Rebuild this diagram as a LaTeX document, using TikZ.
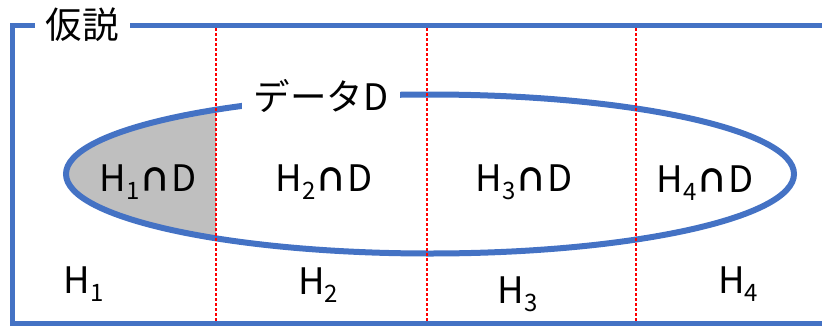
\documentclass[tikz,border=0pt]{standalone}
\usepackage{graphicx}
\usepackage{fontspec}
\setmainfont{Noto Sans CJK JP}
\definecolor{frameblue}{HTML}{4472C4}
\definecolor{shadegray}{HTML}{BFBFBF}
\newcommand\hsub[1]{\raisebox{-0.22em}{\fontsize{24}{24}\selectfont #1}}
\newcommand\capsym{{\bfseries\scalebox{0.86}{∩}}}
\tikzset{
  frameline/.style={draw=frameblue, line width=5pt, line join=miter},
  dataline/.style={draw=frameblue, line width=6pt},
  divider/.style={draw=red, line width=1.1pt, dash pattern=on 3pt off 2pt},
  lbl/.style={font=\fontsize{36.5}{40}\selectfont, inner sep=0pt},
  gaplbl/.style={lbl, fill=white, inner xsep=12pt, inner ysep=2pt},
}
\begin{document}
\begin{tikzpicture}[x=1pt,y=-1pt]
\useasboundingbox (0,0) rectangle (822,327);
% grey part of the ellipse
\begin{scope}
  \clip (430,174) ellipse [x radius=364, y radius=79.5];
  \fill[shadegray] (0,0) rectangle (216,327);
\end{scope}
% data ellipse
\draw[dataline] (430,174) ellipse [x radius=364, y radius=79.5];
\node[gaplbl, anchor=base] (data) at (321,110) {データD};
% dividers
\draw[divider] (216,28) -- (216,321);
\draw[divider] (427,28) -- (427,321);
\draw[divider] (636,28) -- (636,321);
% frame
\draw[frameline] (822,25) -- (12,25) -- (12,323) -- (822,323);
\node[gaplbl, inner xsep=11pt] (hyp) at (82,25) {仮説};
% labels
\node[lbl, anchor=base] (h1d) at (148,191) {H\hsub{1}\capsym D};
\node[lbl, anchor=base] (h2d) at (324,191) {H\hsub{2}\capsym D};
\node[lbl, anchor=base] (h3d) at (524,191) {H\hsub{3}\capsym D};
\node[lbl, anchor=base] (h4d) at (705,192) {H\hsub{4}\capsym D};
\node[lbl, anchor=base] (h1) at (83.5,293) {H\hsub{1}};
\node[lbl, anchor=base] (h2) at (318,294) {H\hsub{2}};
\node[lbl, anchor=base] (h3) at (517.5,303) {H\hsub{3}};
\node[lbl, anchor=base] (h4) at (738,293) {H\hsub{4}};
\end{tikzpicture}
\end{document}
